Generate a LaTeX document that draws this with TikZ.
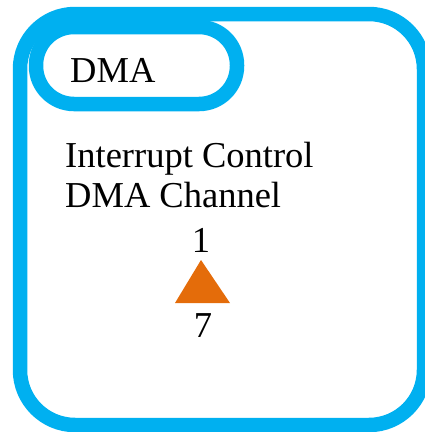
\documentclass[tikz,border=0pt]{standalone}
\usepackage{fontspec}
\setmainfont{Liberation Serif}
\usepackage[HTML]{xcolor}
\usetikzlibrary{positioning}
\definecolor{dmablue}{HTML}{00B0F0}
\definecolor{dmaorange}{HTML}{E46C0A}

\begin{document}
\begin{tikzpicture}[
    x=1pt, y=-1pt, % picture units follow the pixel grid, y runs downwards
    every node/.style={inner sep=0pt, font=\fontsize{36.5}{40}\selectfont},
    frame/.style={draw=dmablue, line width=14.5pt},
    linetext/.style={anchor=base west}
]
    \useasboundingbox (0,0) rectangle (425,432);

    % 1. The outer frame and the title tab
    \draw[frame, rounded corners=55pt] (20,14) rectangle (424,425);
    \draw[frame, fill=white, rounded corners=38pt] (36,27) rectangle (237,104);

    % 2. The texts
    \node (title) [linetext] at (70,82) {DMA};
    \node (irq) [linetext] at (65,167) {Interrupt Control};
    \node (chan) [linetext] at (65,207) {DMA Channel};
    \node (one) [anchor=base] at (201,252) {1};
    \node (seven) [anchor=base] at (203,337) {7};

    % 3. The orange marker between 1 and 7
    \fill[dmaorange] (201,260) -- (175,303) -- (230,303) -- cycle;
\end{tikzpicture}
\end{document}
